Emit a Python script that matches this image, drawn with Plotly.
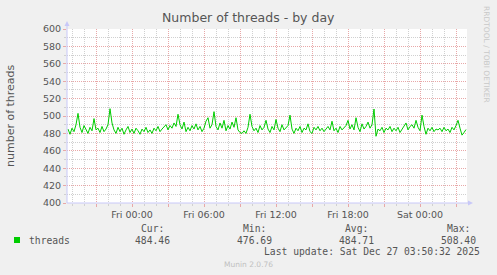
import plotly.graph_objects as go
import pandas as pd

# ---------------- data (10-minute samples) ----------------
series_name = "threads"
start_time = "2025-12-25 18:40"
step = "10min"
threads = [
    485, 479, 486, 482, 490, 503, 487, 481, 489, 484,
    480, 487, 483, 497, 484, 486, 481, 488, 482, 485,
    490, 508.4, 492, 484, 480, 487, 482, 486, 479, 484,
    488, 481, 485, 480, 486, 483, 479, 485, 482, 487,
    481, 484, 480, 486, 483, 488, 482, 485, 487, 490,
    484, 489, 486, 492, 488, 502, 490, 485, 493, 482,
    487, 483, 489, 485, 491, 484, 488, 482, 486, 494,
    498, 486, 490, 505, 488, 484, 492, 486, 495, 483,
    489, 485, 493, 487, 498, 484, 481, 480, 483, 480,
    487, 502, 488, 483, 486, 481, 489, 484, 487, 495,
    485, 481, 488, 484, 496, 486, 482, 490, 484, 487,
    489, 501, 485, 480, 486, 483, 488, 481, 486, 484,
    491, 482, 480, 487, 484, 488, 483, 486, 482, 485,
    488, 484, 494, 483, 486, 481, 488, 484, 487, 489,
    495, 485, 490, 484, 498, 487, 482, 491, 485, 488,
    493, 486, 490, 508, 476.69, 485, 483, 487, 481, 486,
    484, 488, 482, 486, 483, 487, 481, 485, 489, 492,
    484, 488, 490, 486, 495, 487, 483, 501, 488, 479,
    486, 483, 487, 482, 485, 484, 486, 482, 487, 483,
    485, 481, 487, 484, 489, 495, 486, 478, 481, 484.46,
]
x_range = ["2025-12-25 18:35", "2025-12-27 03:55"]
x_tick_times = ["2025-12-26 00:00", "2025-12-26 06:00", "2025-12-26 12:00",
                "2025-12-26 18:00", "2025-12-27 00:00"]
x_tick_labels = ["Fri 00:00", "Fri 06:00", "Fri 12:00", "Fri 18:00", "Sat 00:00"]
y_range = [400, 600]
stat_headers = ["Cur:", "Min:", "Avg:", "Max:"]
stat_values = ["484.46", "476.69", "484.71", "508.40"]
title_text = "Number of threads - by day"
y_title = "number of threads"
last_update = "Last update: Sat Dec 27 03:50:32 2025"
side_text = "RRDTOOL / TOBI OETIKER"
footer = "Munin 2.0.76"

# ---------------- styling ----------------
W, H = 497, 275
L, R, T, B = 67, 30, 29, 72
PW, PH = W - L - R, H - T - B
LINE_GREEN = "#00CC00"
TXT = "#555555"
MAJOR = "#e8a8a8"
MINOR = "#d0d0d0"
AXIS = "#c8c8f8"
SANS = "DejaVu Sans"
MONO = "DejaVu Sans Mono"


def px(x):
    return (x - L) / PW


def py(y):
    return (H - B - y) / PH


times = pd.date_range(start_time, periods=len(threads), freq=step)

# major (3-hour) tick positions, labelled only every 6 hours
major_ticks = pd.date_range("2025-12-25 21:00", "2025-12-27 03:00", freq="3h")
label_map = dict(zip(pd.to_datetime(x_tick_times), x_tick_labels))
major_text = [label_map.get(t, "") for t in major_ticks]

fig = go.Figure()
fig.add_trace(go.Scatter(
    x=times, y=threads, mode="lines", name=series_name,
    line=dict(color=LINE_GREEN, width=1), showlegend=False,
    hoverinfo="skip",
))

fig.update_layout(
    width=W, height=H,
    margin=dict(l=L, r=R, t=T, b=B, pad=0),
    paper_bgcolor="#F0F0F0",
    plot_bgcolor="#FFFFFF",
    font=dict(family=SANS, color=TXT, size=9.5),
    showlegend=False,
)

fig.update_xaxes(
    type="date", range=x_range,
    tickmode="array", tickvals=list(major_ticks), ticktext=major_text,
    showgrid=True, gridcolor=MAJOR, griddash="1px,1px", gridwidth=1,
    ticks="outside", ticklen=3, tickcolor=MAJOR,
    minor=dict(tick0="2025-12-26 00:00", dtick=3600000, showgrid=True,
               gridcolor=MINOR, griddash="1px,1px", gridwidth=1,
               ticks="outside", ticklen=2, tickcolor=MINOR),
    showline=False, zeroline=False,
    tickfont=dict(family=SANS, size=9.5, color=TXT),
)
fig.update_yaxes(
    range=y_range, tickmode="linear", tick0=400, dtick=20,
    showgrid=True, gridcolor=MAJOR, griddash="1px,1px", gridwidth=1,
    ticks="outside", ticklen=3, tickcolor=MAJOR,
    minor=dict(dtick=10, showgrid=True, gridcolor=MINOR, griddash="1px,1px",
               gridwidth=1, ticks="outside", ticklen=2, tickcolor=MINOR),
    showline=False, zeroline=False,
    tickfont=dict(family=SANS, size=9.5, color=TXT),
)

shapes = [
    # axis lines
    dict(type="line", xref="paper", yref="paper", x0=px(67), x1=px(469),
         y0=py(203), y1=py(203), line=dict(color=AXIS, width=1)),
    dict(type="line", xref="paper", yref="paper", x0=px(67), x1=px(67),
         y0=py(203), y1=py(24), line=dict(color=AXIS, width=1)),
    # arrow heads
    dict(type="path", xref="paper", yref="paper",
         path=f"M {px(468)} {py(200.5)} L {px(473)} {py(203)} L {px(468)} {py(205.5)} Z",
         fillcolor=AXIS, line=dict(color=AXIS, width=0)),
    dict(type="path", xref="paper", yref="paper",
         path=f"M {px(64.5)} {py(26)} L {px(67)} {py(21)} L {px(69.5)} {py(26)} Z",
         fillcolor=AXIS, line=dict(color=AXIS, width=0)),
    # legend swatch
    dict(type="rect", xref="paper", yref="paper", x0=px(14), x1=px(20),
         y0=py(243), y1=py(237), fillcolor=LINE_GREEN, line=dict(width=0)),
]
fig.update_layout(shapes=shapes)

ann = []


def text(x, y, s, size=9.5, family=SANS, color=TXT, xanchor="center",
         yanchor="middle", angle=0):
    ann.append(dict(x=px(x), y=py(y), xref="paper", yref="paper", text=s,
                    showarrow=False, xanchor=xanchor, yanchor=yanchor,
                    textangle=angle, font=dict(size=size, family=family, color=color)))


text(248, 17, title_text, size=12.5)
text(11, 115, y_title, size=11, angle=-90)
text(487, 54, side_text, size=7.5, color="#c8c8c8", angle=90)
text(27, 240, series_name, size=9.7, family=MONO, xanchor="left")
for cx, h, v in zip([152, 254, 356, 458.5], stat_headers, stat_values):
    text(cx, 228, h, size=9.7, family=MONO)
    text(cx, 240, v, size=9.7, family=MONO)
text(482, 251.5, last_update, size=9.7, family=MONO, xanchor="right")
text(248, 264, footer, size=7.5, color="#c0c0c0")
fig.update_layout(annotations=ann)

fig.write_html("out.html")
